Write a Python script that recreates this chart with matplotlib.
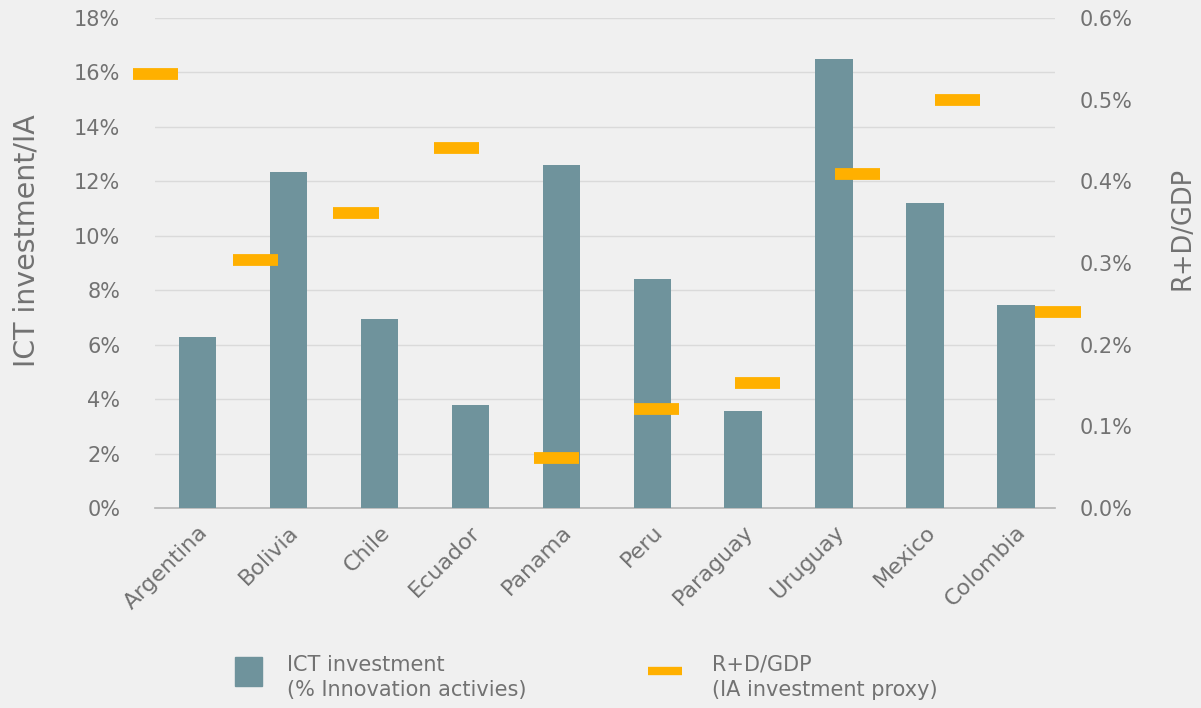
import matplotlib
matplotlib.use("Agg")
import matplotlib.pyplot as plt
from matplotlib.patches import Rectangle
from matplotlib.lines import Line2D
import numpy as np

countries = ["Argentina", "Bolivia", "Chile", "Ecuador", "Panama", "Peru",
             "Paraguay", "Uruguay", "Mexico", "Colombia"]
ict_investment = [6.3, 12.35, 6.95, 3.8, 12.6, 8.4, 3.57, 16.5, 11.2, 7.45]
rd_gdp = [0.531, 0.304, 0.361, 0.441, 0.061, 0.121, 0.153, 0.409, 0.50, 0.240]
left_ticks = [0, 2, 4, 6, 8, 10, 12, 14, 16, 18]
right_ticks = [0.0, 0.1, 0.2, 0.3, 0.4, 0.5, 0.6]

BAR = "#6f939c"
ORANGE = "#ffb000"
TXT = "#727272"
BG = "#f0f0f0"

plt.rcParams['font.family'] = ['DejaVu Sans']

fig = plt.figure(figsize=(12.01, 7.08), dpi=100, facecolor=BG)
pos = [155/1201, 1 - 508/708, 900/1201, 490/708]
ax = fig.add_axes(pos)
ax.set_facecolor("none")

x = np.arange(len(countries))
ax.bar(x, ict_investment, width=0.41, color=BAR, zorder=3)
ax.set_xlim(-0.468, 9.43)
ax.set_ylim(0, 18)
ax.set_yticks(left_ticks)
ax.set_yticklabels([f"{t}%" for t in left_ticks])
ax.grid(axis="y", color="#dadada", lw=1.0, zorder=0)
ax.set_xticks(x)
ax.set_xticklabels(countries, rotation=45, ha="right", rotation_mode="anchor")
for s in ["top", "right", "left"]:
    ax.spines[s].set_visible(False)
ax.spines["bottom"].set_color("#b5b5b5")
ax.spines["bottom"].set_linewidth(1.2)
ax.tick_params(axis="y", length=0, labelsize=15, colors=TXT, pad=25)
ax.tick_params(axis="x", length=0, labelsize=16, colors=TXT, pad=10)
ax.set_ylabel("ICT investment/IA", fontsize=20.5, color=TXT, labelpad=24)
ax.yaxis.label.set_y(0.545)

# secondary axis for R+D/GDP markers (own x-scale)
ax2 = fig.add_axes(pos, frameon=False)
ax2.set_facecolor("none")
ax2.set_xlim(-0.005, 8.97)
ax2.set_ylim(0, 0.6)
ax2.hlines(rd_gdp, x - 0.225, x + 0.225, colors=ORANGE, lw=8.5,
           capstyle="butt", zorder=4, clip_on=False)
ax2.set_xticks([])
ax2.yaxis.tick_right()
ax2.yaxis.set_label_position("right")
ax2.set_yticks(right_ticks)
ax2.set_yticklabels([f"{t:.1f}%" for t in right_ticks])
ax2.tick_params(axis="y", length=0, labelsize=15, colors=TXT, pad=18)
ax2.set_ylabel("R+D/GDP", fontsize=18.5, color=TXT, labelpad=26)
ax2.yaxis.label.set_y(0.571)

# legend
fig.add_artist(Rectangle((235/1201, 1 - 686/708), 27/1201, 29/708,
                         transform=fig.transFigure, color=BAR))
fig.text(287/1201, 1 - 665/708, "ICT investment", fontsize=15, color=TXT, va="center")
fig.text(287/1201, 1 - 690/708, "(% Innovation activies)", fontsize=15, color=TXT, va="center")
fig.add_artist(Line2D([648/1201, 682/1201], [1 - 671/708, 1 - 671/708],
                      transform=fig.transFigure, color=ORANGE, lw=6,
                      solid_capstyle="butt"))
fig.text(712/1201, 1 - 665/708, "R+D/GDP", fontsize=15, color=TXT, va="center")
fig.text(712/1201, 1 - 690/708, "(IA investment proxy)", fontsize=15, color=TXT, va="center")

fig.savefig("out.png", dpi=100, facecolor=BG)
